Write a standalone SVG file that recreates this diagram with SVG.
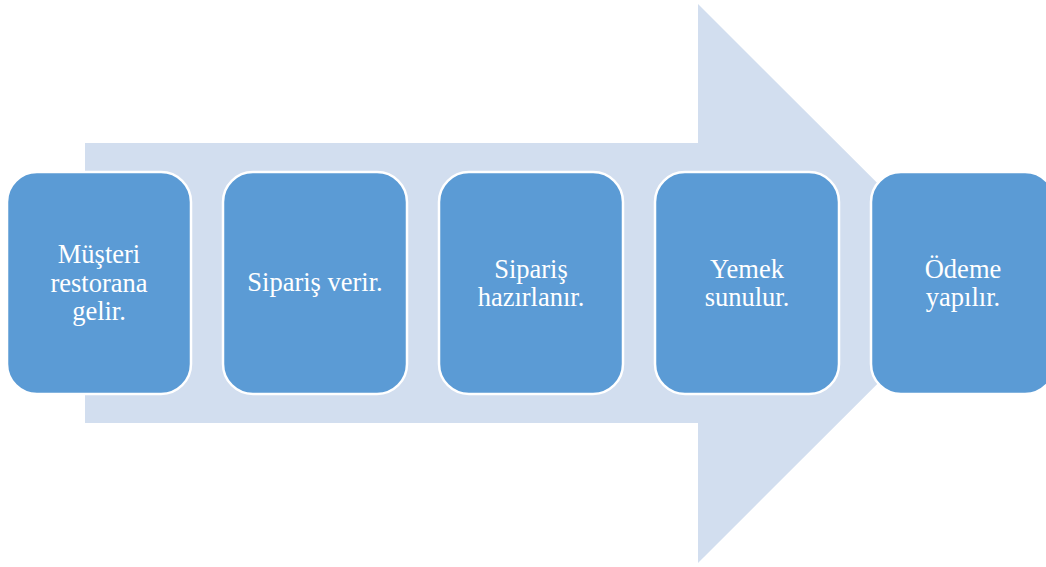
<svg xmlns="http://www.w3.org/2000/svg" width="1046" height="567" viewBox="0 0 1046 567">
<style>
.box{fill:#5B9BD5;stroke:#FFFFFF;stroke-width:2.5}
.t{font-family:"Liberation Serif","Times New Roman",serif;font-size:26.5px;fill:#FFFFFF;text-anchor:middle}
</style>
<rect width="1046" height="567" fill="#FFFFFF"/>
<g id="arrow">
<polygon points="85,143 698,143 698,4 978,283.5 698,563 698,423 85,423" fill="#D2DEEF"/>
</g>
<g id="connectors"></g>
<g id="n1"><rect class="box" x="7" y="172" width="184" height="222" rx="30"/>
<text class="t" x="99" y="263">Müşteri</text><text class="t" x="99" y="292">restorana</text><text class="t" x="99" y="320">gelir.</text></g>
<g id="n2"><rect class="box" x="223" y="172" width="184" height="222" rx="30"/>
<text class="t" x="315" y="291">Sipariş verir.</text></g>
<g id="n3"><rect class="box" x="439" y="172" width="184" height="222" rx="30"/>
<text class="t" x="531" y="278">Sipariş</text><text class="t" x="531" y="306">hazırlanır.</text></g>
<g id="n4"><rect class="box" x="655" y="172" width="184" height="222" rx="30"/>
<text class="t" x="747" y="278">Yemek</text><text class="t" x="747" y="306">sunulur.</text></g>
<g id="n5"><rect class="box" x="871" y="172" width="184" height="222" rx="30"/>
<text class="t" x="963" y="278">Ödeme</text><text class="t" x="963" y="306">yapılır.</text></g>
</svg>
